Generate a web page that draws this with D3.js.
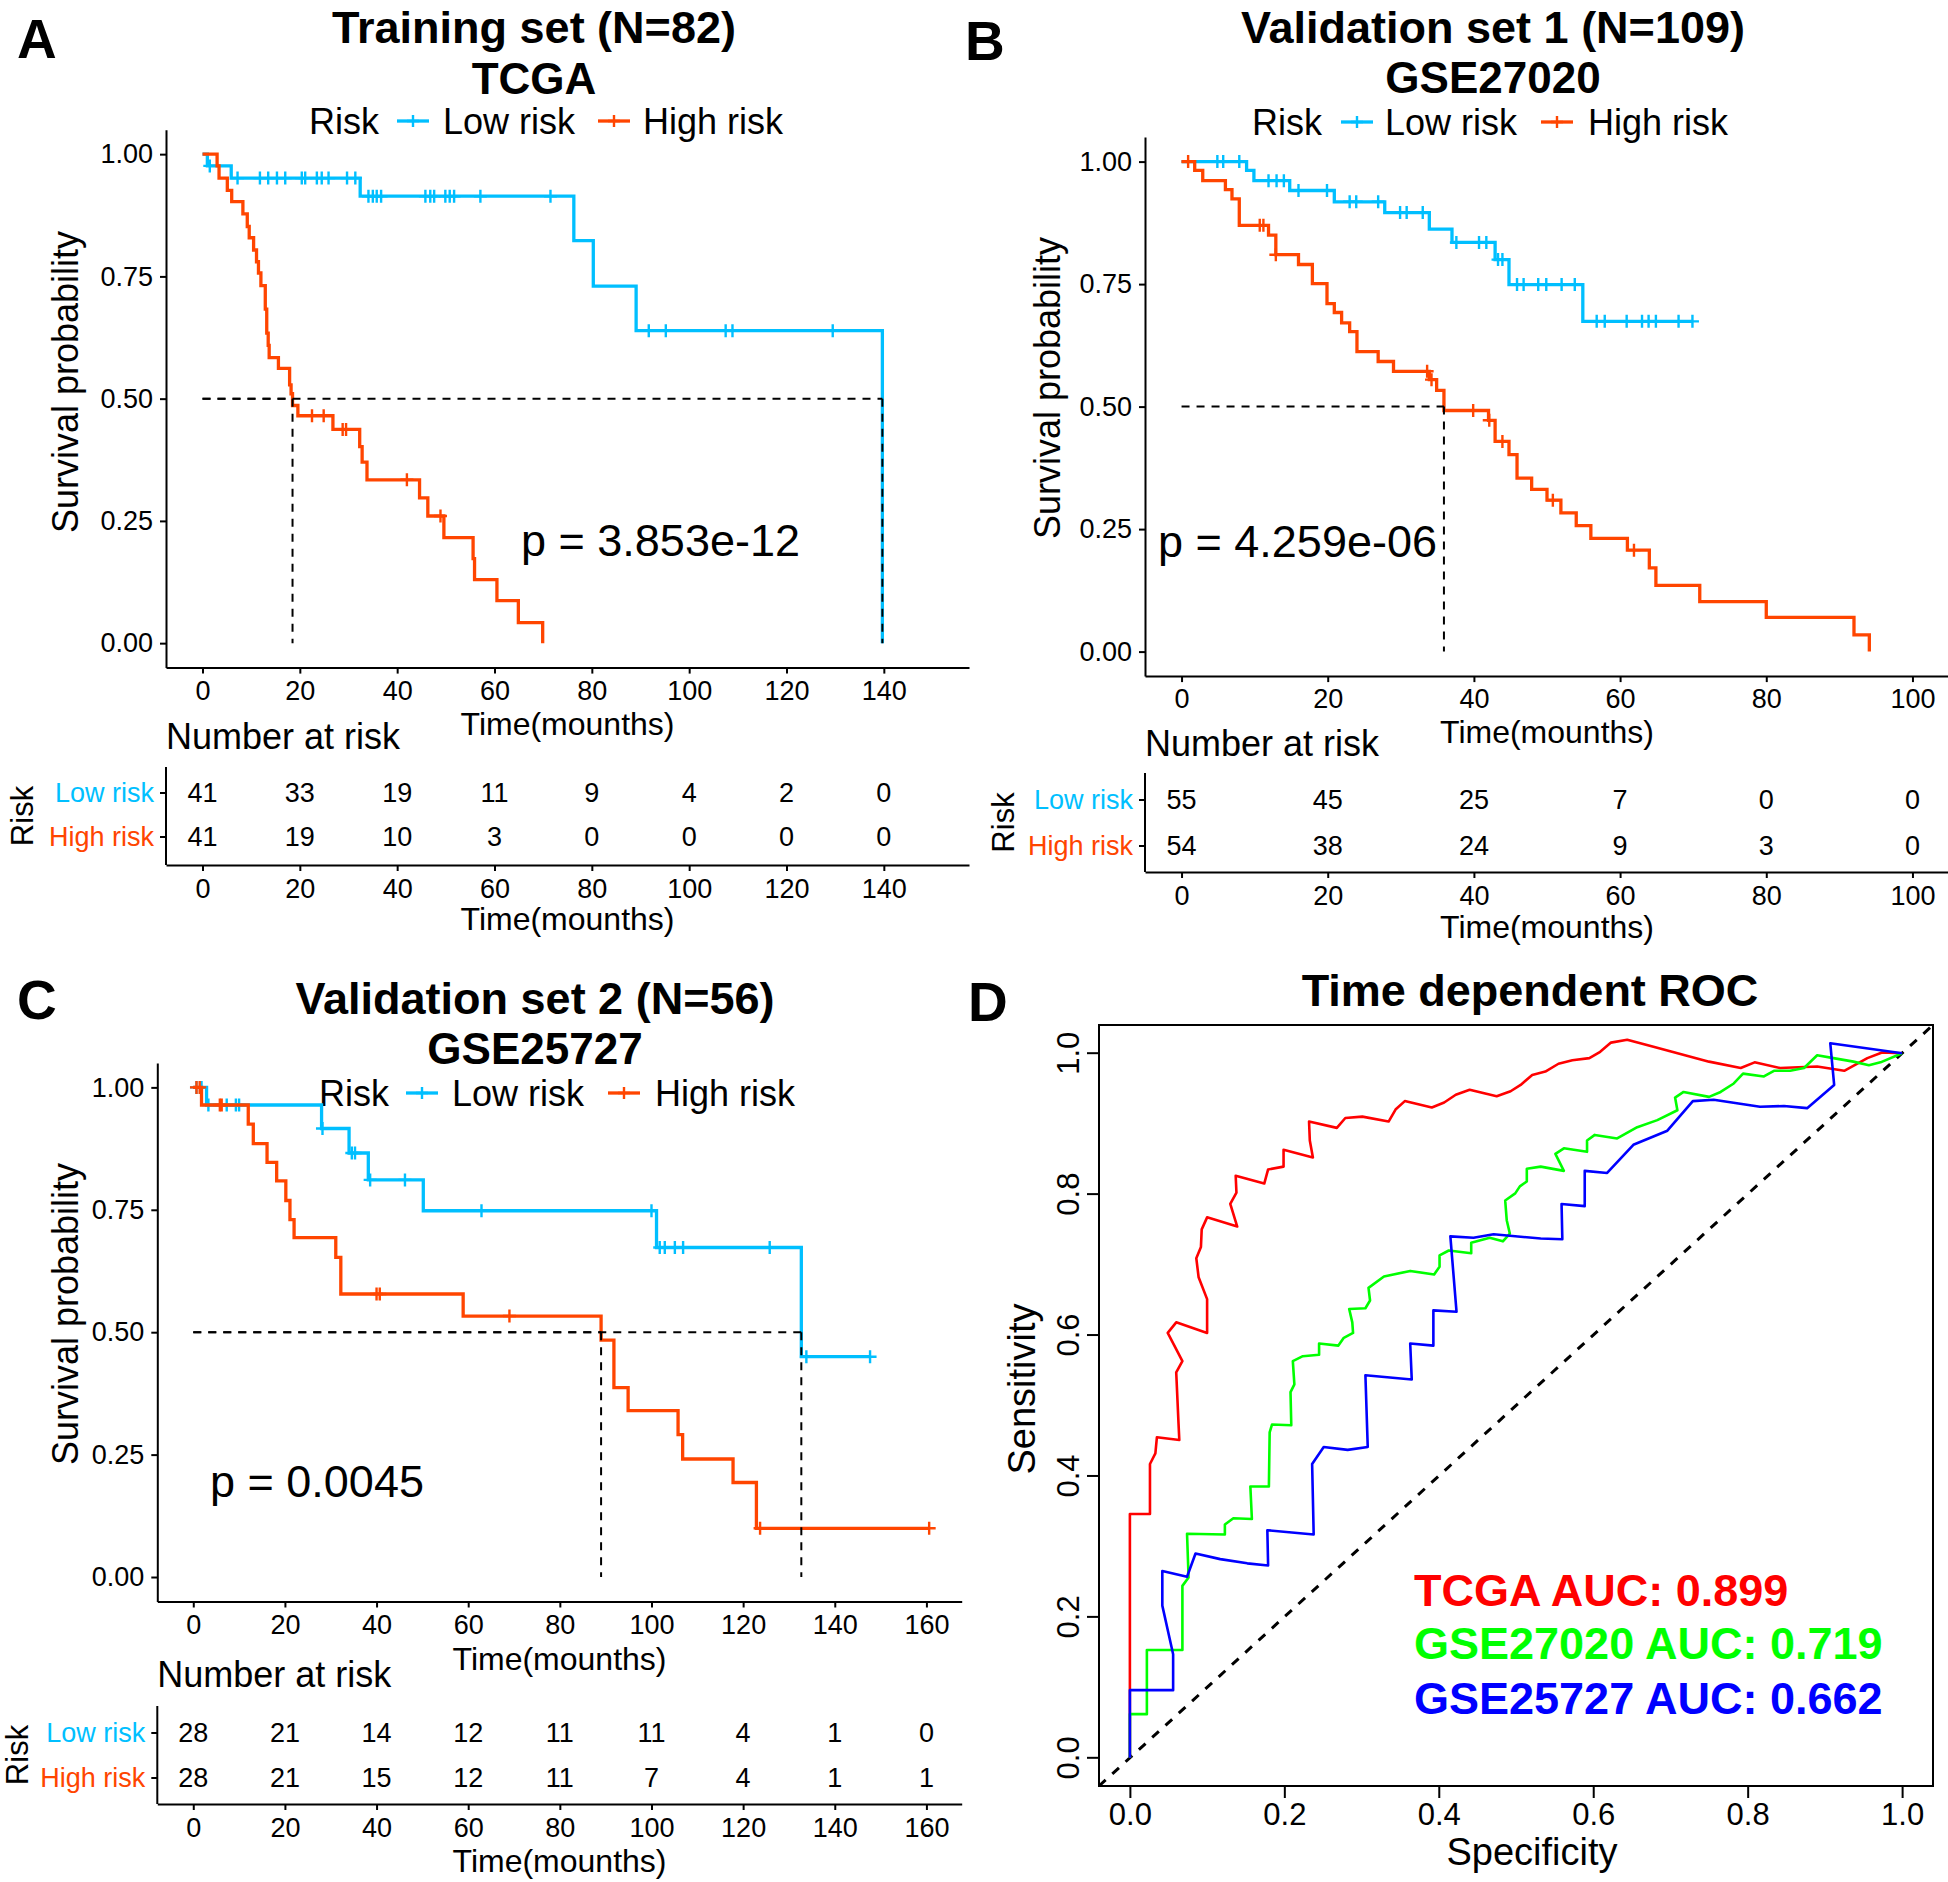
<!DOCTYPE html>
<html><head><meta charset="utf-8">
<script src="https://cdn.jsdelivr.net/npm/d3@7"></script>
<style>body{margin:0;background:#fff}svg{display:block}text{font-family:"Liberation Sans",Arial,Helvetica,sans-serif}</style>
</head><body><svg id="c" width="1948" height="1882"></svg>
<script>
// ---------------- DATA ----------------
// Panel A: TCGA
const aTicks=[0,20,40,60,80,100,120,140];
const aLowT=[1.0,5.9,32.4,76.3,80.3,89.1,139.7];
const aLowS=[0.976,0.951,0.914,0.823,0.730,0.639,0];
const aLowC=[1.5,7.2,11.8,13.5,15.3,17.0,20.4,21.1,23.5,24.5,25.9,29.7,31.4,34.1,35.0,35.8,36.7,45.8,46.8,47.6,49.9,50.8,51.7,57.1,71.5,91.7,95.2,107.5,108.9,129.5];
const aHighT=[3.0,3.4,5.1,6.0,8.3,9.2,9.6,10.5,11.1,11.5,12.0,12.9,13.2,13.5,13.7,15.6,17.9,18.2,18.5,19.6,26.8,32.3,32.8,33.8,44.6,46.3,49.6,55.6,55.9,60.5,64.9,69.9];
const aHighS=[0.976,0.951,0.926,0.903,0.878,0.852,0.829,0.804,0.780,0.757,0.731,0.683,0.634,0.609,0.584,0.562,0.528,0.510,0.486,0.465,0.437,0.402,0.370,0.334,0.297,0.260,0.216,0.173,0.130,0.087,0.042,0];
const aHighC=[22.5,24.9,28.8,29.5,42.0,48.9];
const aLowN=[41,33,19,11,9,4,2,0];
const aHighN=[41,19,10,3,0,0,0,0];
const aP='p = 3.853e-12';

// Panel B: GSE27020
const bTicks=[0,20,40,60,80,100];
const bLowT=[8.9,9.9,14.8,20.9,27.8,33.9,37.0,42.9,44.8,54.9];
const bLowS=[0.982,0.961,0.941,0.918,0.896,0.862,0.835,0.800,0.749,0.674];
const bLowC=[4.9,5.7,7.9,11.9,13.0,14.0,16.0,19.9,23.0,23.9,26.9,29.9,30.8,33.0,37.6,40.7,41.7,43.3,43.9,45.9,46.8,48.8,49.9,52.0,53.8,56.8,57.9,60.9,63.0,63.9,64.9,68.0,69.9];
const bHighT=[1.8,2.9,6.0,6.9,7.9,11.9,12.9,16.0,17.9,19.9,20.9,21.9,23.0,24.0,26.9,29.0,33.9,34.9,35.9,42.0,42.9,44.8,45.9,47.9,50.0,51.9,54.0,56.0,61.0,64.0,64.9,70.9,80.0,92.0,94.1];
const bHighS=[0.982,0.961,0.943,0.924,0.870,0.850,0.810,0.790,0.751,0.710,0.692,0.671,0.653,0.612,0.592,0.572,0.555,0.533,0.492,0.472,0.429,0.402,0.354,0.331,0.309,0.283,0.257,0.231,0.207,0.171,0.135,0.102,0.070,0.034,0];
const bHighC=[0.9,10.7,11.2,12.9,33.6,34.2,39.9,42.1,43.9,50.8,61.9];
const bLowN=[55,45,25,7,0,0];
const bHighN=[54,38,24,9,3,0];
const bP='p = 4.259e-06';

// Panel C: GSE25727
const cTicks=[0,20,40,60,80,100,120,140,160];
const cLowT=[2.9,28.0,34.0,38.2,50.2,101.1,132.7];
const cLowS=[0.964,0.916,0.866,0.811,0.748,0.673,0.450];
const cLowC=[0.7,1.8,3.3,7.3,9.3,10.0,28.2,34.6,35.3,38.6,46.2,62.9,100.0,101.8,102.9,105.1,106.9,125.8,133.8,147.7];
const cHighT=[1.8,12.0,13.1,16.1,18.2,20.2,21.1,22.0,31.1,32.2,58.9,89.0,91.8,94.9,105.8,106.8,117.8,122.9];
const cHighS=[0.964,0.925,0.885,0.847,0.809,0.769,0.730,0.693,0.653,0.578,0.533,0.484,0.387,0.340,0.291,0.241,0.193,0.0995];
const cHighC=[0.7,1.4,5.8,6.2,40.0,40.7,69.0,123.7,160.6];
const cLowN=[28,21,14,12,11,11,4,1,0];
const cHighN=[28,21,15,12,11,7,4,1,1];
const cP='p = 0.0045';

// Panel D: ROC curves [x, y]
const rocTicks=[0,0.2,0.4,0.6,0.8,1.0];
const rocTCGA=[[0,0],[0,0.346],[0.026,0.346],[0.026,0.417],[0.033,0.432],[0.035,0.455],[0.064,0.451],[0.063,0.474],[0.060,0.547],[0.068,0.563],[0.049,0.603],[0.060,0.618],[0.100,0.603],[0.100,0.651],[0.089,0.682],[0.086,0.709],[0.092,0.725],[0.093,0.750],[0.100,0.767],[0.139,0.754],[0.130,0.786],[0.138,0.802],[0.137,0.826],[0.174,0.815],[0.179,0.835],[0.199,0.839],[0.199,0.863],[0.237,0.852],[0.233,0.876],[0.232,0.903],[0.268,0.894],[0.279,0.908],[0.301,0.910],[0.335,0.903],[0.344,0.920],[0.356,0.932],[0.391,0.923],[0.407,0.930],[0.422,0.941],[0.440,0.948],[0.475,0.939],[0.493,0.946],[0.506,0.955],[0.521,0.969],[0.538,0.974],[0.555,0.985],[0.573,0.990],[0.595,0.993],[0.609,1.002],[0.623,1.015],[0.644,1.019],[0.678,1.009],[0.750,0.988],[0.791,0.979],[0.809,0.987],[0.842,0.979],[0.890,0.981],[0.925,0.975],[0.955,0.993],[0.974,1.001],[1,1]];
const rocGSE27020=[[0,0],[0,0.062],[0.022,0.062],[0.022,0.153],[0.068,0.153],[0.068,0.244],[0.076,0.256],[0.074,0.318],[0.123,0.317],[0.123,0.331],[0.134,0.340],[0.158,0.339],[0.156,0.385],[0.180,0.385],[0.181,0.462],[0.184,0.473],[0.209,0.472],[0.208,0.519],[0.213,0.530],[0.211,0.563],[0.224,0.570],[0.245,0.572],[0.245,0.588],[0.270,0.585],[0.277,0.596],[0.289,0.603],[0.288,0.618],[0.284,0.637],[0.305,0.638],[0.311,0.649],[0.309,0.667],[0.329,0.683],[0.363,0.691],[0.394,0.686],[0.401,0.697],[0.401,0.713],[0.413,0.720],[0.442,0.716],[0.442,0.731],[0.466,0.738],[0.483,0.733],[0.492,0.744],[0.488,0.763],[0.486,0.791],[0.499,0.801],[0.505,0.811],[0.514,0.818],[0.514,0.836],[0.532,0.839],[0.562,0.833],[0.551,0.857],[0.562,0.865],[0.592,0.860],[0.592,0.876],[0.602,0.884],[0.631,0.879],[0.657,0.895],[0.683,0.905],[0.709,0.919],[0.706,0.937],[0.717,0.945],[0.750,0.938],[0.765,0.945],[0.782,0.957],[0.794,0.971],[0.821,0.967],[0.834,0.975],[0.855,0.975],[0.873,0.979],[0.890,0.997],[0.911,0.993],[0.937,0.988],[0.957,0.983],[0.972,0.987],[1,1]];
const rocGSE25727=[[0,0],[0,0.096],[0.056,0.096],[0.056,0.147],[0.042,0.216],[0.042,0.265],[0.074,0.257],[0.085,0.290],[0.117,0.282],[0.152,0.276],[0.179,0.273],[0.178,0.323],[0.238,0.317],[0.236,0.417],[0.251,0.441],[0.282,0.437],[0.308,0.441],[0.305,0.543],[0.365,0.537],[0.363,0.588],[0.393,0.585],[0.393,0.635],[0.423,0.633],[0.415,0.740],[0.445,0.738],[0.471,0.743],[0.532,0.737],[0.560,0.736],[0.559,0.786],[0.589,0.783],[0.589,0.833],[0.618,0.830],[0.652,0.870],[0.696,0.890],[0.729,0.932],[0.756,0.934],[0.816,0.924],[0.847,0.925],[0.877,0.922],[0.912,0.955],[0.907,1.014],[1,1]];
const aucLabels=['TCGA AUC: 0.899','GSE27020 AUC: 0.719','GSE25727 AUC: 0.662'];

// ---------------- DRAWING ----------------
const FONT='"Liberation Sans", Arial, Helvetica, sans-serif';
const LOW='#00BFFF', HIGH='#FF4500';
const svg=d3.select('#c');
svg.append('rect').attr('width',1948).attr('height',1882).attr('fill','#fff');

function text(g,x,y,s,o={}){
  const t=g.append('text').attr('x',x).attr('y',y).attr('dy',o.dy===undefined?'0.35em':o.dy)
    .attr('font-size',o.size||27).attr('text-anchor',o.anchor||'start')
    .attr('font-weight',o.weight||'normal').attr('fill',o.fill||'#000').text(s);
  if(o.rotate) t.attr('transform',`rotate(${o.rotate},${x},${y})`);
  return t;
}
function styleAxis(a,size){
  a.attr('font-size',size).attr('font-family',FONT);
  a.select('.domain').attr('stroke','#000').attr('stroke-width',2);
  a.selectAll('.tick line').attr('stroke','#000').attr('stroke-width',2);
  a.selectAll('.tick text').attr('fill','#000');
}
function plus(g,cx,cy,col,r){
  g.append('path').attr('d',`M${cx-r},${cy}H${cx+r}M${cx},${cy-r}V${cy+r}`)
    .attr('stroke',col).attr('stroke-width',2.4).attr('fill','none');
}
function survAt(T,S,t){let s=1;for(let i=0;i<T.length;i++){if(T[i]<=t)s=S[i];}return s;}
function median(T,S){for(let i=0;i<S.length;i++){if(S[i]<=0.5)return T[i];}return null;}

function kmPanel(P){
  const g=svg.append('g');
  const x=d3.scaleLinear().domain(P.xDom).range(P.xR);
  const y=d3.scaleLinear().domain([-0.05,1.05]).range(P.yR);
  text(g,P.lx,P.ly,P.label,{size:55,weight:'bold',dy:0});
  text(g,P.tx,P.ty[0],P.title[0],{size:45,weight:'bold',anchor:'middle'});
  text(g,P.tx,P.ty[1],P.title[1],{size:44,weight:'bold',anchor:'middle'});
  const L=P.legend;
  text(g,L.risk,L.y,'Risk',{size:36});
  [[L.k1,LOW,L.l1,'Low risk'],[L.k2,HIGH,L.l2,'High risk']].forEach(([k,col,lx,lab])=>{
    g.append('line').attr('x1',k-16).attr('x2',k+16).attr('y1',L.y).attr('y2',L.y).attr('stroke',col).attr('stroke-width',3.3);
    plus(g,k,L.y,col,6);
    text(g,lx,L.y,lab,{size:36});
  });
  // axes
  const ax=g.append('g').attr('transform',`translate(0,${P.yR[0]})`)
    .call(d3.axisBottom(x).tickValues(P.ticks).tickSize(6).tickSizeOuter(0).tickPadding(7).tickFormat(d3.format('d')));
  styleAxis(ax,27);
  const ay=g.append('g').attr('transform',`translate(${P.xR[0]},0)`)
    .call(d3.axisLeft(y).tickValues([0,0.25,0.5,0.75,1]).tickSize(6).tickSizeOuter(0).tickPadding(7).tickFormat(d3.format('.2f')));
  styleAxis(ay,27);
  text(g,(P.xR[0]+P.xR[1])/2,P.xTitleY,'Time(mounths)',{size:32,anchor:'middle'});
  text(g,P.yTitle[0],P.yTitle[1],'Survival probability',{size:36,anchor:'middle',rotate:-90});
  // curves
  const line=d3.line().x(d=>x(d[0])).y(d=>y(d[1])).curve(d3.curveStepAfter);
  [[P.low,LOW],[P.high,HIGH]].forEach(([D,col])=>{
    const pts=[[0,1]];
    D.T.forEach((t,i)=>pts.push([t,D.S[i]]));
    const cmax=d3.max(D.C)||0;
    if(cmax>D.T[D.T.length-1]) pts.push([cmax,D.S[D.S.length-1]]);
    g.append('path').attr('d',line(pts)).attr('fill','none').attr('stroke',col).attr('stroke-width',3.3);
    D.C.forEach(t=>plus(g,x(t),y(survAt(D.T,D.S,t)),col,6.5));
  });
  // median lines
  const meds=[median(P.low.T,P.low.S),median(P.high.T,P.high.S)].filter(m=>m!==null);
  meds.forEach(m=>{
    g.append('line').attr('x1',x(0)).attr('x2',x(m)).attr('y1',y(0.5)).attr('y2',y(0.5))
      .attr('stroke','#000').attr('stroke-width',2).attr('stroke-dasharray','8,7');
    g.append('line').attr('x1',x(m)).attr('x2',x(m)).attr('y1',y(0.5)).attr('y2',y(0))
      .attr('stroke','#000').attr('stroke-width',2).attr('stroke-dasharray','8,7');
  });
  text(g,P.p[1],P.p[2],P.p[0],{size:45});
  // risk table
  const T=P.table, tg=g.append('g');
  text(tg,P.xR[0],T.numY,'Number at risk',{size:36});
  tg.append('line').attr('x1',P.xR[0]).attr('x2',P.xR[0]).attr('y1',T.top).attr('y2',T.bottom).attr('stroke','#000').attr('stroke-width',2);
  const tax=tg.append('g').attr('transform',`translate(0,${T.bottom})`)
    .call(d3.axisBottom(x).tickValues(P.ticks).tickSize(6).tickSizeOuter(0).tickPadding(8).tickFormat(d3.format('d')));
  styleAxis(tax,27);
  [[T.lowY,'Low risk',LOW,P.lowN],[T.highY,'High risk',HIGH,P.highN]].forEach(([yy,lab,col,N])=>{
    tg.append('line').attr('x1',P.xR[0]-6).attr('x2',P.xR[0]).attr('y1',yy).attr('y2',yy).attr('stroke','#000').attr('stroke-width',2);
    text(tg,P.xR[0]-12,yy,lab,{size:27,anchor:'end',fill:col});
    P.ticks.forEach((t,i)=>text(tg,x(t),yy,N[i],{size:27,anchor:'middle'}));
  });
  text(tg,T.riskX,(T.top+T.bottom)/2,'Risk',{size:31,anchor:'middle',rotate:-90});
  text(tg,(P.xR[0]+P.xR[1])/2,T.titleY,'Time(mounths)',{size:32,anchor:'middle'});
}

kmPanel({label:'A',lx:17,ly:58,title:['Training set (N=82)','TCGA'],tx:534,ty:[27,79],
  legend:{y:121,risk:309,k1:413,l1:443,k2:614,l2:643},
  xDom:[-7.5,157.5],xR:[166,969],yR:[667.6,129.7],ticks:aTicks,
  low:{T:aLowT,S:aLowS,C:aLowC},high:{T:aHighT,S:aHighS,C:aHighC},lowN:aLowN,highN:aHighN,
  p:[aP,521,540.5],xTitleY:724,yTitle:[65,382],
  table:{top:767,bottom:865,lowY:793,highY:837,titleY:919,numY:736,riskX:22}});

kmPanel({label:'B',lx:965,ly:60,title:['Validation set 1 (N=109)','GSE27020'],tx:1493,ty:[27,78],
  legend:{y:122,risk:1252,k1:1357,l1:1385,k2:1557,l2:1588},
  xDom:[-5,105],xR:[1145,1949],yR:[676.1,137.1],ticks:bTicks,
  low:{T:bLowT,S:bLowS,C:bLowC},high:{T:bHighT,S:bHighS,C:bHighC},lowN:bLowN,highN:bHighN,
  p:[bP,1158,541],xTitleY:732,yTitle:[1047,388],
  table:{top:773,bottom:872,lowY:800,highY:846,titleY:927,numY:743,riskX:1003}});

kmPanel({label:'C',lx:17,ly:1019,title:['Validation set 2 (N=56)','GSE25727'],tx:535,ty:[998,1049],
  legend:{y:1093,risk:319,k1:422,l1:452,k2:624,l2:655},
  xDom:[-7.85,167.7],xR:[157.3,961.7],yR:[1601.5,1062.9],ticks:cTicks,
  low:{T:cLowT,S:cLowS,C:cLowC},high:{T:cHighT,S:cHighS,C:cHighC},lowN:cLowN,highN:cHighN,
  p:[cP,210,1481],xTitleY:1659,yTitle:[65,1314],
  table:{top:1706,bottom:1804,lowY:1733,highY:1778,titleY:1861,numY:1674,riskX:17}});

// ---------- Panel D ----------
(function(){
  const g=svg.append('g');
  const rx=d3.scaleLinear().domain([-0.04,1.04]).range([1099,1933]);
  const ry=d3.scaleLinear().domain([-0.04,1.04]).range([1786,1025]);
  text(g,968,1021,'D',{size:55,weight:'bold',dy:0});
  text(g,1530,990,'Time dependent ROC',{size:45,weight:'bold',anchor:'middle'});
  g.append('rect').attr('x',1099).attr('y',1025).attr('width',834).attr('height',761)
    .attr('fill','none').attr('stroke','#000').attr('stroke-width',2);
  const ax=g.append('g').attr('transform','translate(0,1786)')
    .call(d3.axisBottom(rx).tickValues(rocTicks).tickSize(12).tickSizeOuter(0).tickPadding(5).tickFormat(d3.format('.1f')));
  styleAxis(ax,31); ax.select('.domain').remove();
  const ay=g.append('g');
  rocTicks.forEach(v=>{
    ay.append('line').attr('x1',1087).attr('x2',1099).attr('y1',ry(v)).attr('y2',ry(v)).attr('stroke','#000').attr('stroke-width',2);
    text(ay,1068,ry(v),d3.format('.1f')(v),{size:31,anchor:'middle',rotate:-90});
  });
  text(g,1532,1852,'Specificity',{size:38,anchor:'middle'});
  text(g,1022,1389,'Sensitivity',{size:38,anchor:'middle',rotate:-90});
  g.append('line').attr('x1',rx(-0.04)).attr('y1',ry(-0.04)).attr('x2',rx(1.04)).attr('y2',ry(1.04))
    .attr('stroke','#000').attr('stroke-width',3).attr('stroke-dasharray','9,9');
  const line=d3.line().x(d=>rx(d[0])).y(d=>ry(d[1]));
  const cols=['#FF0000','#00FF00','#0000FF'];
  [rocTCGA,rocGSE27020,rocGSE25727].forEach((D,i)=>{
    g.append('path').attr('d',line(D)).attr('fill','none').attr('stroke',cols[i]).attr('stroke-width',2.6).attr('stroke-linejoin','round');
  });
  [1590,1643.5,1698].forEach((yy,i)=>text(g,1414,yy,aucLabels[i],{size:45,weight:'bold',fill:cols[i]}));
})();
</script></body></html>
